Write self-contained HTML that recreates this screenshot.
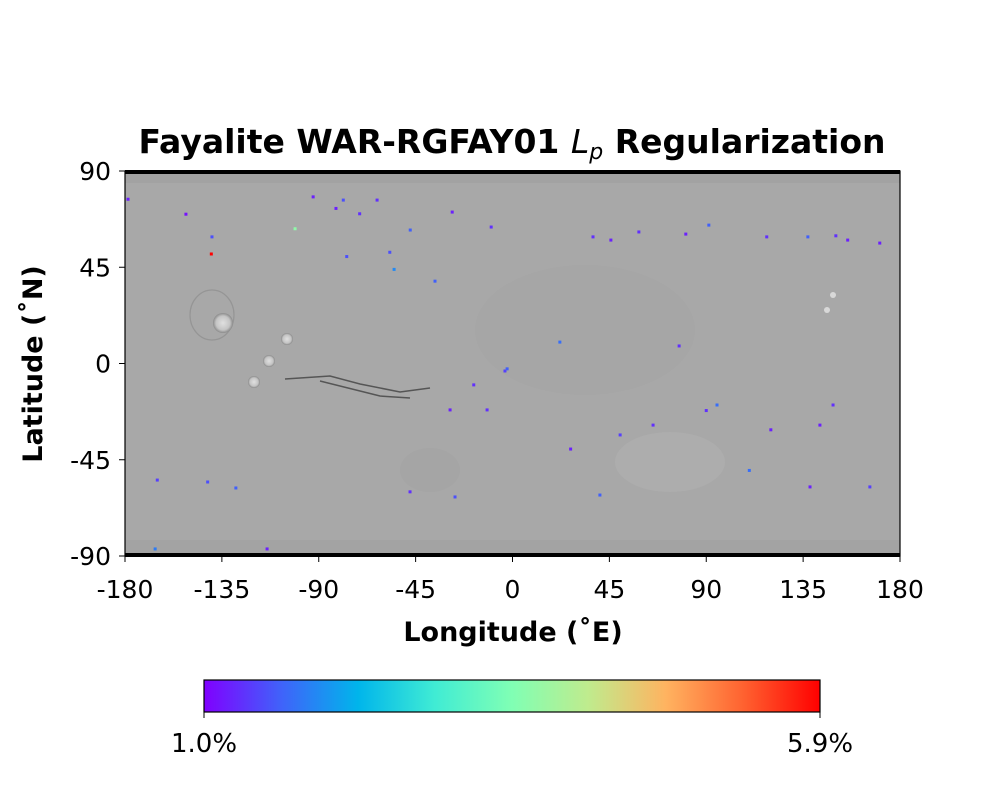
<!DOCTYPE html>
<html><head><meta charset="utf-8"><style>
body{margin:0;background:#fff;width:1000px;height:800px;overflow:hidden;font-family:"Liberation Sans","DejaVu Sans",sans-serif}
</style></head><body>
<svg id="chart" width="1000" height="800" xmlns="http://www.w3.org/2000/svg" font-family="DejaVu Sans, Liberation Sans, sans-serif">
<defs>
<linearGradient id="rainbow" x1="0" x2="1" y1="0" y2="0">
<stop offset="0" stop-color="#8000ff"/><stop offset="0.125" stop-color="#4062fa"/>
<stop offset="0.25" stop-color="#00b5eb"/><stop offset="0.375" stop-color="#40ecd4"/>
<stop offset="0.5" stop-color="#80ffb4"/><stop offset="0.625" stop-color="#c0eb8d"/>
<stop offset="0.75" stop-color="#ffb360"/><stop offset="0.875" stop-color="#ff6230"/>
<stop offset="1" stop-color="#ff0000"/></linearGradient>
<radialGradient id="vol"><stop offset="0" stop-color="#e0e0e0"/><stop offset="0.7" stop-color="#c4c4c4"/><stop offset="1" stop-color="#8a8a8a"/></radialGradient>
<clipPath id="clip"><rect x="125" y="171" width="775" height="385"/></clipPath>
</defs>
<text x="512" y="153" text-anchor="middle" font-size="33" font-weight="bold">Fayalite WAR-RGFAY01 <tspan font-style="italic" font-weight="normal">L</tspan><tspan font-style="italic" font-weight="normal" font-size="22" dy="6">p</tspan><tspan dy="-6"> Regularization</tspan></text>
<g clip-path="url(#clip)">
<rect x="125" y="171" width="775" height="385" fill="#a8a8a8"/>
<ellipse cx="585" cy="330" rx="110" ry="65" fill="#a6a6a6"/>
<ellipse cx="670" cy="462" rx="55" ry="30" fill="#adadad"/>
<ellipse cx="430" cy="470" rx="30" ry="22" fill="#a5a5a5"/>
<ellipse cx="212" cy="315" rx="22" ry="25" fill="none" stroke="#959595" stroke-width="1.2"/>
<circle cx="223" cy="323" r="10" fill="url(#vol)"/>
<circle cx="287" cy="339" r="6" fill="url(#vol)"/>
<circle cx="269" cy="361" r="6" fill="url(#vol)"/>
<circle cx="254" cy="382" r="6" fill="url(#vol)"/>
<circle cx="833" cy="295" r="3" fill="#d8d8d8"/><circle cx="827" cy="310" r="3" fill="#d8d8d8"/>
<path d="M285 379 L330 376 L360 384 L400 392 L430 388 M320 381 L380 396 L410 398" stroke="#555" stroke-width="1.5" fill="none"/>
<rect x="125" y="173" width="775" height="10" fill="#a2a2a2"/>
<rect x="125" y="540" width="775" height="14" fill="#a3a3a3"/>
</g>
<g id="points" clip-path="url(#clip)"></g>
<line x1="125" y1="172" x2="900" y2="172" stroke="#000" stroke-width="4"/>
<line x1="125" y1="555" x2="900" y2="555" stroke="#000" stroke-width="4"/>
<rect x="125" y="171" width="775" height="385" fill="none" stroke="#000" stroke-width="1.2"/>
<g id="axes" font-size="25"></g>
<text x="513" y="641" text-anchor="middle" font-size="27" font-weight="bold">Longitude (˚E)</text>
<text transform="translate(42,364) rotate(-90)" text-anchor="middle" font-size="27" font-weight="bold">Latitude (˚N)</text>
<rect x="204" y="680" width="616" height="32" fill="url(#rainbow)" stroke="#000" stroke-width="1.2"/>
<line x1="204" y1="712" x2="204" y2="718" stroke="#000"/><line x1="820" y1="712" x2="820" y2="718" stroke="#000"/>
<text x="204" y="752" text-anchor="middle" font-size="26">1.0%</text>
<text x="820" y="752" text-anchor="middle" font-size="26">5.9%</text>
</svg>
<script>
const xTicks=[-180,-135,-90,-45,0,45,90,135,180];
const yTicks=[90,45,0,-45,-90];
const lons=[-178.6,-151.7,-139.6,-139.9,-92.6,-78.6,-62.9,-47.5,-28,-9.9,-3.5,-2.5,37.4,45.7,58.7,80.5,91.2,118.1,137.2,150.2,155.7,170.6,77.4,22,-29,-11.8,50,65.3,95,142.8,148.9,-165,-141.6,-128.5,-47.6,-26.7,40.6,138.2,166,-114,-166,-82,-71,-57,-36,-18,-101,-77,-55,27,90,110,120];
const lats=[76.8,69.8,59.2,51.2,77.9,76.4,76.4,62.4,70.8,63.8,-3.5,-2.5,59.2,57.7,61.5,60.5,64.7,59.2,59.2,59.7,57.7,56.3,8.2,10,-21.7,-21.7,-33.4,-28.8,-19.4,-28.8,-19.4,-54.5,-55.4,-58.2,-60,-62.4,-61.5,-57.7,-57.7,-86.7,-86.7,72.5,70,52,38.5,-10,63,50,44,-40,-22,-50,-31];
const vals=[1.2,1.1,1.5,5.9,1.2,1.5,1.3,1.6,1.2,1.3,1.4,1.6,1.3,1.2,1.3,1.2,1.6,1.3,1.6,1.3,1.2,1.2,1.3,1.7,1.2,1.3,1.4,1.3,1.7,1.2,1.3,1.4,1.5,1.6,1.3,1.5,1.6,1.2,1.4,1.2,1.8,1.2,1.3,1.5,1.6,1.3,3.6,1.5,1.9,1.2,1.3,1.7,1.2];
const vmin=1.0,vmax=5.9;
const xs=v=>125+(v+180)/360*775, ys=v=>171+(90-v)/180*385;
const stops=[[128,0,255],[64,98,250],[0,181,235],[64,236,212],[128,255,180],[192,235,141],[255,179,96],[255,98,48],[255,0,0]];
function cmap(v){let t=Math.max(0,Math.min(1,(v-vmin)/(vmax-vmin)))*8;let i=Math.min(7,Math.floor(t)),f=t-i;
const c=stops[i].map((a,k)=>Math.round(a+(stops[i+1][k]-a)*f));return `rgb(${c})`;}
const NS="http://www.w3.org/2000/svg";
const pg=document.getElementById('points');
lons.forEach((lo,i)=>{const r=document.createElementNS(NS,'rect');
r.setAttribute('x',xs(lo)-1.5);r.setAttribute('y',ys(lats[i])-1.5);r.setAttribute('width',3);r.setAttribute('height',3);
r.setAttribute('fill',cmap(vals[i]));


pg.appendChild(r);});
const ax=document.getElementById('axes');
xTicks.forEach(t=>{const l=document.createElementNS(NS,'line');l.setAttribute('x1',xs(t));l.setAttribute('x2',xs(t));l.setAttribute('y1',556);l.setAttribute('y2',562);l.setAttribute('stroke','#000');ax.appendChild(l);
const tx=document.createElementNS(NS,'text');tx.setAttribute('x',xs(t));tx.setAttribute('y',598);tx.setAttribute('text-anchor','middle');tx.textContent=t;


ax.appendChild(tx);});
yTicks.forEach(t=>{const l=document.createElementNS(NS,'line');l.setAttribute('x1',119);l.setAttribute('x2',125);l.setAttribute('y1',ys(t));l.setAttribute('y2',ys(t));l.setAttribute('stroke','#000');ax.appendChild(l);
const tx=document.createElementNS(NS,'text');tx.setAttribute('x',111);tx.setAttribute('y',ys(t)+9);tx.setAttribute('text-anchor','end');tx.textContent=t;


ax.appendChild(tx);});
</script>
</body></html>
